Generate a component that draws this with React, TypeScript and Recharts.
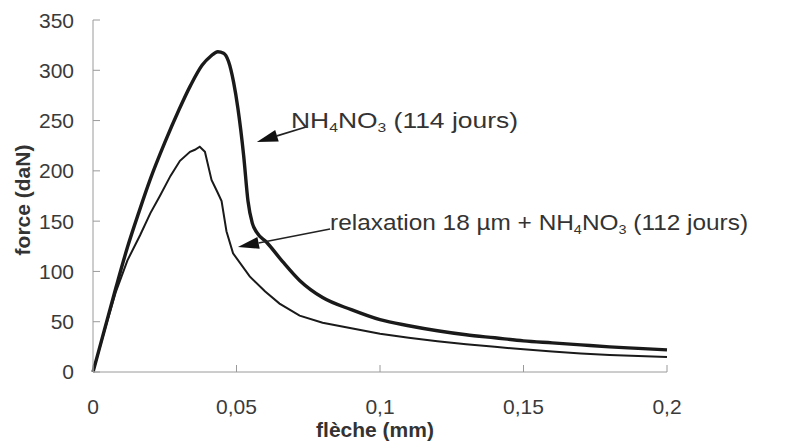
import React from 'react';
import { LineChart, Line, XAxis, YAxis, ReferenceLine, ReferenceDot } from 'recharts';

const xTicks = [0, 0.05, 0.1, 0.15, 0.2];
const yTicks = [0, 50, 100, 150, 200, 250, 300, 350];

// NH4NO3 (114 jours) – thick curve
const thickX = [0, 0.004, 0.008, 0.012, 0.016, 0.02, 0.025, 0.03, 0.034, 0.038, 0.041, 0.0435, 0.0455, 0.0472, 0.049, 0.0505, 0.0525, 0.054, 0.0555, 0.057, 0.0605, 0.066, 0.072, 0.08, 0.09, 0.1, 0.11, 0.12, 0.13, 0.14, 0.15, 0.16, 0.17, 0.18, 0.19, 0.2];
const thickY = [0, 42, 84, 124, 159, 192, 228, 261, 285, 305, 314, 318.5, 317, 309, 288, 262, 215, 170, 148, 139, 129, 110, 91, 74, 62, 52, 46, 41, 37, 34, 31, 29, 27, 25, 23.5, 22];

// relaxation 18 µm + NH4NO3 (112 jours) – thin curve
const thinX = [0, 0.004, 0.008, 0.012, 0.0164, 0.02, 0.0233, 0.027, 0.0303, 0.0338, 0.0355, 0.0372, 0.039, 0.0413, 0.0435, 0.0448, 0.0465, 0.0488, 0.0546, 0.06, 0.065, 0.072, 0.08, 0.09, 0.1, 0.11, 0.12, 0.13, 0.14, 0.15, 0.16, 0.17, 0.18, 0.19, 0.2];
const thinY = [0, 41, 80, 111, 136, 158, 175, 195, 210, 219, 221, 224, 219, 191, 178, 170, 140, 118, 95, 80, 68, 56, 49, 43.5, 38, 34, 30.5, 27.5, 25, 22.5, 20.5, 18.5, 17, 16, 15];

const thickData = thickX.map((x, i) => ({ x, y: thickY[i] }));
const thinData = thinX.map((x, i) => ({ x, y: thinY[i] }));

// annotation anchors (data coordinates)
const label1Pos = { x: 0.069, y: 242.6 };
const label2Pos = { x: 0.0826, y: 141.2 };
const arrow1 = [{ x: 0.0742, y: 243.6 }, { x: 0.0571, y: 228.7 }];
const arrow2 = [{ x: 0.0826, y: 142.2 }, { x: 0.0505, y: 124.3 }];

const FONT = '"Liberation Sans", Arial, Helvetica, sans-serif';
const fmt = (v: number) => String(v).replace('.', ',');

const ArrowShape = (props: any) => {
  const { x1, y1, x2, y2 } = props;
  if ([x1, y1, x2, y2].some((v) => typeof v !== 'number' || isNaN(v))) return <g />;
  const ang = Math.atan2(y2 - y1, x2 - x1);
  const len = 21;
  const hw = 6;
  const bx = x2 - len * Math.cos(ang);
  const by = y2 - len * Math.sin(ang);
  const px = -Math.sin(ang) * hw;
  const py = Math.cos(ang) * hw;
  return (
    <g>
      <line x1={x1} y1={y1} x2={bx} y2={by} stroke="#222" strokeWidth={1.6} />
      <polygon points={`${x2},${y2} ${bx + px},${by + py} ${bx - px},${by - py}`} fill="#111" />
    </g>
  );
};

const Label1 = (props: any) => {
  const { cx, cy } = props;
  return (
    <text x={cx} y={cy} fontSize={22} fontFamily={FONT} fill="#333" textLength={227} lengthAdjust="spacingAndGlyphs">
      NH<tspan fontSize={13} dy={4}>4</tspan>
      <tspan dy={-4}>NO</tspan>
      <tspan fontSize={13} dy={4}>3</tspan>
      <tspan dy={-4}>{' (114 jours)'}</tspan>
    </text>
  );
};

const Label2 = (props: any) => {
  const { cx, cy } = props;
  return (
    <text x={cx} y={cy} fontSize={22} fontFamily={FONT} fill="#333" textLength={418} lengthAdjust="spacingAndGlyphs">
      {'relaxation 18 µm + NH'}
      <tspan fontSize={13} dy={4}>4</tspan>
      <tspan dy={-4}>NO</tspan>
      <tspan fontSize={13} dy={4}>3</tspan>
      <tspan dy={-4}>{' (112 jours)'}</tspan>
    </text>
  );
};

const YLabel = (props: any) => {
  const vb = props.viewBox || { x: 0, y: 12, width: 85, height: 352 };
  const x = vb.x + 14;
  const y = vb.y + vb.height / 2 + 4;
  return (
    <text x={x} y={y} transform={`rotate(-90 ${x} ${y})`} textAnchor="middle" dominantBaseline="central" fontSize={21} fontWeight="bold" fontFamily={FONT} fill="#333">
      force (daN)
    </text>
  );
};

const XLabel = (props: any) => {
  const vb = props.viewBox || { x: 85, y: 364, width: 574, height: 71 };
  const x = vb.x + vb.width / 2 - 5;
  const y = vb.y + 65;
  return (
    <text x={x} y={y} textAnchor="middle" fontSize={21} fontWeight="bold" fontFamily={FONT} fill="#333">
      flèche (mm)
    </text>
  );
};

const tickStyle = { fontSize: 21, fill: '#3a3a3a', fontFamily: FONT };

export default function App() {
  return (
    <div style={{ width: 784, height: 435, background: '#fff' }}>
      <LineChart width={784} height={435} margin={{ top: 12, right: 125, left: 0, bottom: 0 }}>
        <XAxis
          type="number"
          dataKey="x"
          domain={[0, 0.2]}
          ticks={xTicks}
          tickFormatter={fmt}
          height={71}
          tickSize={-7}
          tickMargin={34}
          stroke="#9a9a9a"
          tick={tickStyle}
          allowDuplicatedCategory={false}
          label={XLabel}
        />
        <YAxis
          type="number"
          domain={[0, 350]}
          ticks={yTicks}
          width={85}
          tickSize={-7}
          tickMargin={26}
          stroke="#9a9a9a"
          tick={tickStyle}
          label={YLabel}
        />
        <Line data={thickData} dataKey="y" type="monotone" stroke="#1a1a1a" strokeWidth={3.4} dot={false} isAnimationActive={false} />
        <Line data={thinData} dataKey="y" type="linear" stroke="#1a1a1a" strokeWidth={2} dot={false} isAnimationActive={false} />
        <ReferenceLine segment={arrow1} shape={ArrowShape} ifOverflow="visible" />
        <ReferenceLine segment={arrow2} shape={ArrowShape} ifOverflow="visible" />
        <ReferenceDot x={label1Pos.x} y={label1Pos.y} r={0} shape={Label1} ifOverflow="visible" />
        <ReferenceDot x={label2Pos.x} y={label2Pos.y} r={0} shape={Label2} ifOverflow="visible" />
      </LineChart>
    </div>
  );
}
